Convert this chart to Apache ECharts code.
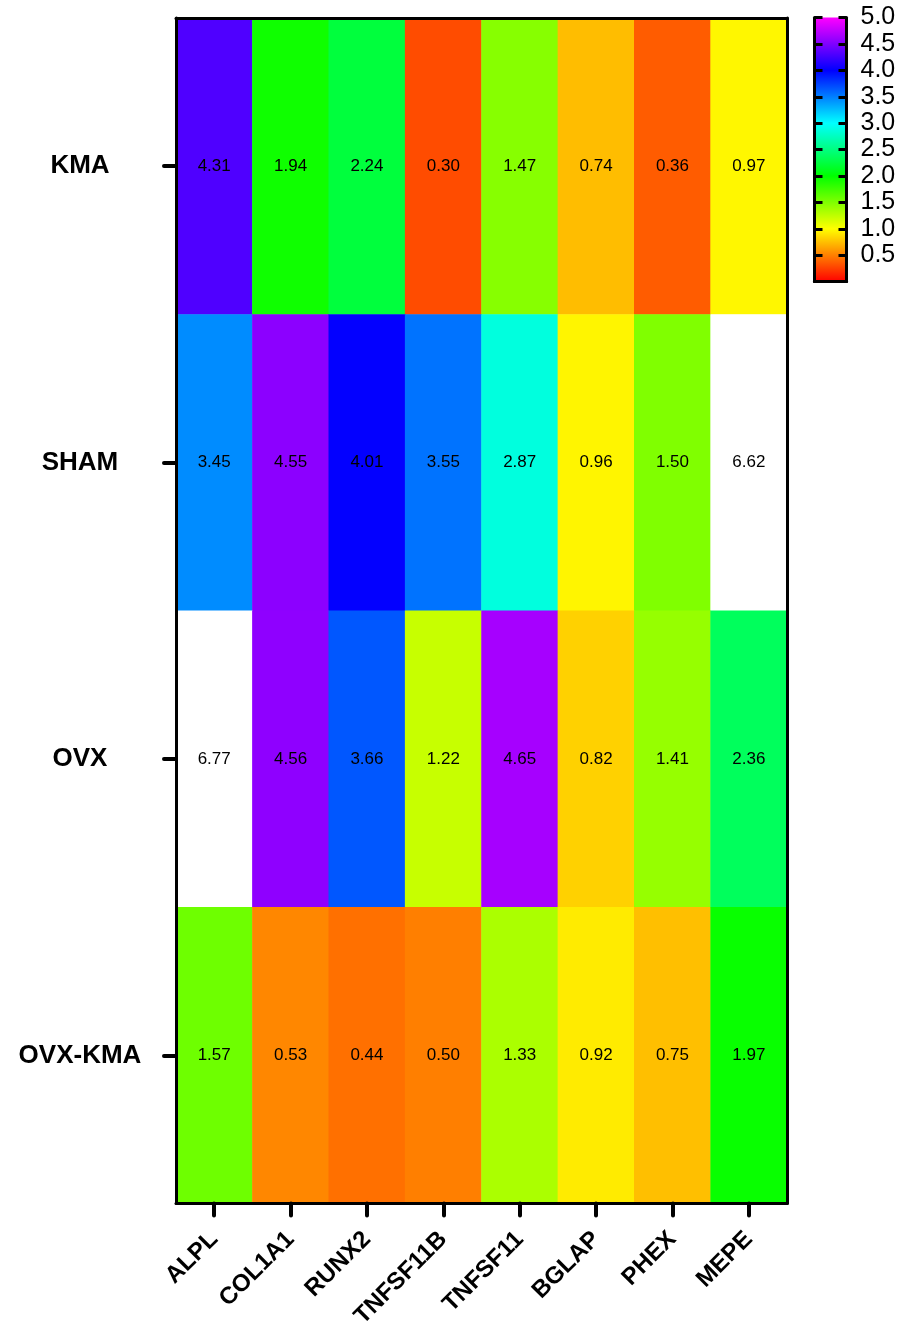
<!DOCTYPE html>
<html><head><meta charset="utf-8">
<script src="https://cdn.jsdelivr.net/npm/echarts@6/dist/echarts.min.js"></script>
<style>html,body{margin:0;padding:0;background:#fff}#c{width:907px;height:1331px}</style>
</head><body><div id="c"></div>
<script>
const genes = ['ALPL','COL1A1','RUNX2','TNFSF11B','TNFSF11','BGLAP','PHEX','MEPE'];
const groups = ['KMA','SHAM','OVX','OVX-KMA'];
const KMA = [4.31,1.94,2.24,0.30,1.47,0.74,0.36,0.97];
const SHAM = [3.45,4.55,4.01,3.55,2.87,0.96,1.50,6.62];
const OVX = [6.77,4.56,3.66,1.22,4.65,0.82,1.41,2.36];
const OVX_KMA = [1.57,0.53,0.44,0.50,1.33,0.92,0.75,1.97];
const rowsVals = [KMA, SHAM, OVX, OVX_KMA];
const scaleMin = 0, scaleMax = 5, scaleStep = 0.5;
const rainbow = ['#ff0000','#ffff00','#00ff00','#00ffff','#0000ff','#ff00ff'];

const data = [];
rowsVals.forEach((r, gi) => r.forEach((v, xi) => data.push([xi, gi, v])));

const font = 'Arial, "Liberation Sans", sans-serif';
const chart = echarts.init(document.getElementById('c'));
const gradStops = rainbow.map((c, i) => ({offset: 1 - i / (rainbow.length - 1), color: c}));
const lineStyle = {color: '#000', width: 3};
const tickStyle = {color: '#000', width: 4, cap: 'round'};
const barTickStyle = {color: '#000', width: 3};

chart.setOption({
  animation: false,
  grid: [
    {left: 176, top: 18, width: 611, height: 1187},
    {left: 814.5, top: 17.6, width: 32, height: 264}
  ],
  xAxis: [
    {type: 'category', data: genes, gridIndex: 0, position: 'bottom', z: 10,
     axisLine: {show: true, lineStyle}, axisTick: {show: true, alignWithLabel: true, length: 12, lineStyle: tickStyle},
     axisLabel: {rotate: 45, margin: 32, fontSize: 24, fontWeight: 'bold', color: '#000', fontFamily: font, interval: 0},
     splitLine: {show: false}},
    {type: 'category', data: genes, gridIndex: 0, position: 'top', z: 10,
     axisLine: {show: true, lineStyle}, axisTick: {show: false}, axisLabel: {show: false}},
    {type: 'category', data: ['bar'], gridIndex: 1, position: 'bottom', z: 10,
     axisLine: {show: true, lineStyle}, axisTick: {show: false}, axisLabel: {show: false}},
    {type: 'category', data: ['bar'], gridIndex: 1, position: 'top', z: 10,
     axisLine: {show: true, lineStyle}, axisTick: {show: false}, axisLabel: {show: false}}
  ],
  yAxis: [
    {type: 'category', data: groups, inverse: true, gridIndex: 0, position: 'left', z: 10,
     axisLine: {show: true, lineStyle}, axisTick: {show: true, alignWithLabel: true, length: 12, lineStyle: tickStyle},
     axisLabel: {margin: 96, align: 'center', fontSize: 26, fontWeight: 'bold', color: '#000', fontFamily: font},
     splitLine: {show: false}},
    {type: 'category', data: groups, inverse: true, gridIndex: 0, position: 'right', z: 10,
     axisLine: {show: true, lineStyle}, axisTick: {show: false}, axisLabel: {show: false}, splitLine: {show: false}},
    {type: 'value', gridIndex: 1, min: scaleMin, max: scaleMax, interval: scaleStep, position: 'left', z: 10,
     axisLine: {show: true, lineStyle}, axisTick: {show: true, inside: true, length: 8, lineStyle: barTickStyle},
     axisLabel: {show: false}, splitLine: {show: false}},
    {type: 'value', gridIndex: 1, min: scaleMin, max: scaleMax, interval: scaleStep, position: 'right', z: 10,
     axisLine: {show: true, lineStyle}, axisTick: {show: true, inside: true, length: 8, lineStyle: barTickStyle},
     axisLabel: {show: true, margin: 14, fontSize: 25, color: '#000', fontFamily: font,
       formatter: v => v === 0 ? '' : v.toFixed(1)}, splitLine: {show: false}}
  ],
  visualMap: {
    show: false, seriesIndex: 0, min: scaleMin, max: scaleMax + 0.0001, range: [scaleMin, scaleMax],
    inRange: {color: rainbow}, outOfRange: {color: '#ffffff'}
  },
  series: [
    {type: 'heatmap', xAxisIndex: 0, yAxisIndex: 0, data: data,
     label: {show: true, color: '#000', fontSize: 17, fontFamily: font, formatter: p => p.value[2].toFixed(2)},
     itemStyle: {borderWidth: 0}},
    {type: 'bar', xAxisIndex: 2, yAxisIndex: 2, data: [scaleMax], barWidth: '100%',
     itemStyle: {color: new echarts.graphic.LinearGradient(0, 0, 0, 1, gradStops)}, silent: true}
  ]
});
</script></body></html>
